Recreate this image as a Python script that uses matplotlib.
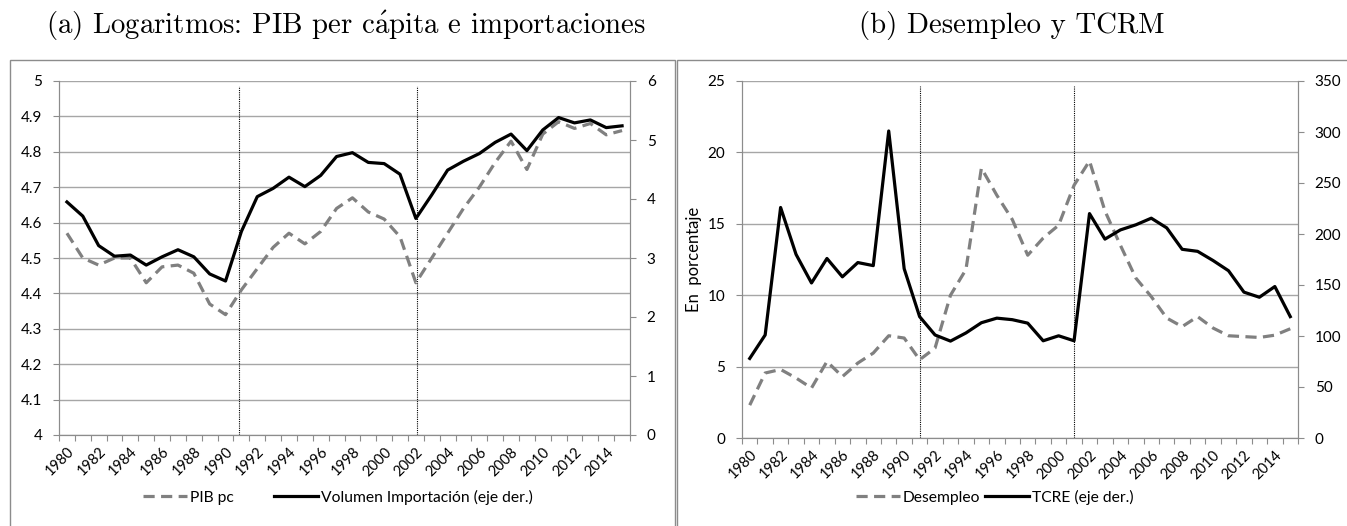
import numpy as np
import matplotlib
matplotlib.use("Agg")
import matplotlib.pyplot as plt
from matplotlib.lines import Line2D
from matplotlib.patches import Rectangle

plt.rcParams['font.family'] = ['Lato', 'DejaVu Sans']
plt.rcParams['mathtext.fontset'] = 'cm'

#------- data -------
years = list(range(1980, 2016))
year_labels = [str(y) for y in years[::2]]

pib_pc = [4.57, 4.50, 4.48, 4.50, 4.50, 4.43, 4.475, 4.48, 4.457, 4.37,
          4.34, 4.41, 4.47, 4.53, 4.57, 4.54, 4.575, 4.64, 4.67, 4.63,
          4.61, 4.56, 4.43, 4.50, 4.57, 4.64, 4.70, 4.77, 4.83, 4.75,
          4.85, 4.885, 4.866, 4.88, 4.848, 4.86]
vol_import = [3.95, 3.71, 3.21, 3.03, 3.05, 2.88, 3.02, 3.14, 3.02, 2.73,
              2.61, 3.45, 4.04, 4.18, 4.37, 4.21, 4.40, 4.72, 4.785, 4.62,
              4.60, 4.42, 3.67, 4.07, 4.49, 4.64, 4.77, 4.96, 5.10, 4.82,
              5.17, 5.38, 5.29, 5.34, 5.21, 5.24]

desempleo = [2.3, 4.55, 4.8, 4.2, 3.5, 5.36, 4.3, 5.25, 5.95, 7.16,
             7.0, 5.48, 6.3, 10.0, 11.8, 18.9, 17.0, 15.3, 12.8, 14.0,
             14.9, 17.7, 19.4, 15.9, 13.5, 11.2, 9.9, 8.4, 7.8, 8.5,
             7.7, 7.16, 7.1, 7.04, 7.2, 7.65]
tcre = [78, 101, 226, 180, 152, 176, 158, 172, 169, 301,
        166, 119, 101, 95, 103, 113, 117.5, 116, 112.6, 95.3,
        100.2, 95.3, 220, 195, 204, 209, 215.5, 206, 185, 183,
        174, 164, 143, 138, 148.5, 119]

title_a = r'(a) Logaritmos: PIB per c$\acute{\mathrm{a}}$pita e importaciones'
title_b = '(b) Desempleo y TCRM'
leg_a = ['PIB pc', 'Volumen Importación (eje der.)']
leg_b = ['Desempleo', 'TCRE (eje der.)']

GRAY = '#808080'
AX = '#8c8c8c'
XFS = 10.5
YFS = 11
SERIF = ['cmr10', 'DejaVu Serif']

fig = plt.figure(figsize=(13.47, 5.26), dpi=100)
W, H = 1347, 526
renderer = fig.canvas.get_renderer()

def px(x0, y0, x1, y1):
    return [x0 / W, 1 - y1 / H, (x1 - x0) / W, (y1 - y0) / H]

def fit_size(text, width_px, **kw):
    # font size that makes text about width_px wide
    t = fig.text(0, 0, text, fontsize=20, **kw)
    w = t.get_window_extent(renderer).width
    t.remove()
    return 20 * width_px / w

def setup(ax, ax2, left_ticks, right_ticks, vlines):
    n = len(years)
    x = np.arange(n)
    ax.set_xlim(-0.5, n - 0.5)
    ax.set_xticks(np.arange(-0.5, n, 1.0))
    ax.set_xticklabels([])
    ax.set_xticks(x[::2], minor=True)
    ax.set_xticklabels(year_labels, minor=True, rotation=45, ha='right',
                       rotation_mode='anchor', fontsize=XFS)
    ax.tick_params(axis='x', which='major', length=4, color=AX, direction='out')
    ax.tick_params(axis='x', which='minor', length=0, pad=7)
    ax.set_yticks(left_ticks)
    ax.set_ylim(left_ticks[0], left_ticks[-1])
    ax2.set_yticks(right_ticks)
    ax2.set_ylim(right_ticks[0], right_ticks[-1])
    ax.tick_params(axis='y', length=4, color=AX, labelsize=YFS, pad=8)
    ax2.tick_params(axis='y', length=4, color=AX, labelsize=YFS, pad=8)
    ax.grid(axis='y', color='#a6a6a6', lw=1)
    ax.set_axisbelow(True)
    for a in (ax, ax2):
        a.spines['top'].set_visible(False)
        for s in ('left', 'right', 'bottom'):
            a.spines[s].set_color(AX)
    for v in vlines:
        ax.axvline(v, ymax=0.985, color='black', lw=0.8, ls=(0, (1, 1)))

#------ panel (a) ------
axa = fig.add_axes(px(59, 81, 630, 435))
axa2 = axa.twinx()
x = np.arange(len(years))
setup(axa, axa2, np.round(np.arange(4, 5.01, 0.1), 1), np.arange(0, 7, 1), [10.85, 22.1])
axa.set_yticklabels(['4'] + ['%.1f' % v for v in np.arange(4.1, 4.95, 0.1)] + ['5'])
axa.plot(x, pib_pc, color=GRAY, lw=2.3, ls=(0, (3.5, 2)), zorder=3)
axa2.plot(x, vol_import, color='black', lw=2.3, zorder=3)

#------ panel (b) ------
axb = fig.add_axes(px(742, 81, 1298, 438))
axb2 = axb.twinx()
setup(axb, axb2, np.arange(0, 26, 5), np.arange(0, 351, 50), [11, 21])
axb.set_ylabel('En  porcentaje', fontsize=12)
axb.yaxis.set_label_coords(-0.072, 0.5)
axb.plot(x, desempleo, color=GRAY, lw=2.3, ls=(0, (3.5, 2)), zorder=3)
axb2.plot(x, tcre, color='black', lw=2.3, zorder=3)

#------ frames ------
for x0, x1 in ((10, 675), (676.5, 1360)):
    fig.patches.append(Rectangle((x0 / W, -0.01), (x1 - x0) / W, 1 - 60 / H + 0.01,
                                 transform=fig.transFigure, fill=False,
                                 edgecolor=AX, lw=1))

#------ titles ------
tfs = fit_size(title_a, 600, family=SERIF)
fig.text(346 / W, 1 - 33 / H, title_a, family=SERIF, fontsize=tfs,
         ha='center', va='baseline')
fig.text(1012 / W, 1 - 33 / H, title_b, family=SERIF, fontsize=tfs,
         ha='center', va='baseline')

#------ legends ------
lfs = fit_size(leg_a[1], 212)
dash_h = Line2D([], [], color=GRAY, lw=2.3, ls=(0, (3.5, 2)))
solid_h = Line2D([], [], color='black', lw=2.3)
fig.legend([dash_h, solid_h], leg_a,
           loc='center', bbox_to_anchor=(338 / W, 1 - 497 / H), ncol=2,
           frameon=False, fontsize=lfs, handlelength=2.8, handletextpad=0.2,
           columnspacing=2.6)
fig.legend([dash_h, solid_h], leg_b,
           loc='center', bbox_to_anchor=(995 / W, 1 - 497 / H), ncol=2,
           frameon=False, fontsize=lfs, handlelength=2.8, handletextpad=0.2,
           columnspacing=0.3)

fig.savefig('out.png', dpi=100)
